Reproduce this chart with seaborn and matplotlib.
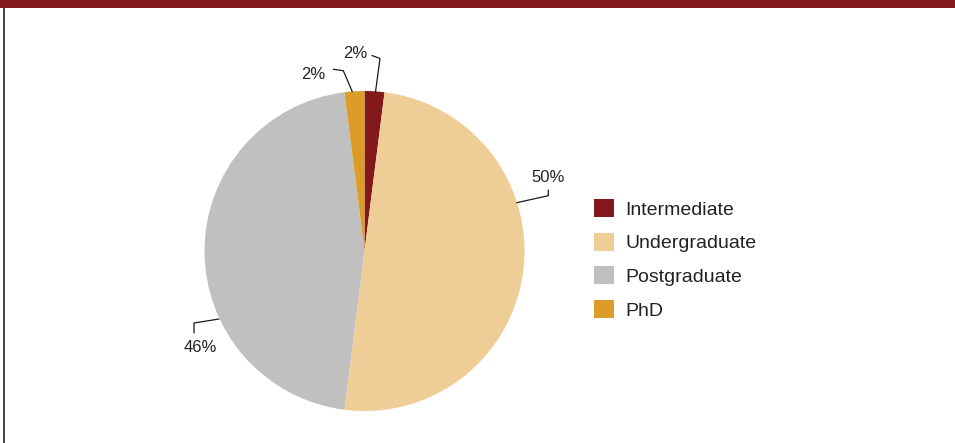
import matplotlib
matplotlib.use("Agg")
import matplotlib.pyplot as plt
from matplotlib.patches import Rectangle
import seaborn as sns

# ---- data ----
categories = ["Intermediate", "Undergraduate", "Postgraduate", "PhD"]
shares = [2, 50, 46, 2]
pct_labels = ["2%", "50%", "46%", "2%"]
colors = ["#82181a", "#eecd96", "#c0c0c0", "#dc9d28"]

# ---- layout (pixel space, y downward) ----
W, H = 955, 443
CENTER = (364.5, 251)
RADIUS = 160
# connector polylines and label centres for each slice
CONNECTORS = [
    [(375.5, 92), (380, 58.5), (372, 55.5)],
    [(516.7, 202.7), (548.3, 195.7), (548.3, 190)],
    [(219, 319), (194, 323), (194, 333)],
    [(352.3, 91.7), (343.3, 70.7), (333.3, 69.3)],
]
LABEL_POS = [(355, 53.5), (548.5, 177.5), (200.5, 348), (313, 74.5)]

sns.set_theme(style="white")
plt.rcParams["font.family"] = ["Liberation Sans", "DejaVu Sans"]

fig = plt.figure(figsize=(W / 100, H / 100), dpi=100)
ax = fig.add_axes([0, 0, 1, 1])

wedges, _ = ax.pie(
    shares,
    colors=colors,
    startangle=-90,
    counterclock=True,
    center=CENTER,
    radius=RADIUS,
    wedgeprops=dict(linewidth=0, antialiased=True),
    frame=True,
)
ax.set_xlim(0, W)
ax.set_ylim(H, 0)
ax.set_aspect("equal")
ax.axis("off")

# top band and left rule
ax.add_patch(Rectangle((0, 0), W, 8, facecolor="#821a1c", edgecolor="none", clip_on=False))
ax.plot([3.5, 3.5], [8, H], color="#111111", lw=1.1, solid_capstyle="butt", clip_on=False)

# data labels with connectors
for pts, pos, txt in zip(CONNECTORS, LABEL_POS, pct_labels):
    xs, ys = zip(*pts)
    ax.plot(xs, ys, color="#1a1a1a", lw=0.9, solid_joinstyle="miter")
    ax.text(pos[0], pos[1], txt, ha="center", va="center", fontsize=12, color="#222222")

# legend
leg = ax.legend(
    wedges,
    categories,
    loc="upper left",
    bbox_to_anchor=(593.5, 199),
    bbox_transform=ax.transData,
    frameon=False,
    borderpad=0,
    borderaxespad=0,
    fontsize=14,
    handlelength=1.05,
    handleheight=1.05,
    handletextpad=0.6,
    labelspacing=0.72,
)
for t in leg.get_texts():
    t.set_color("#222222")

fig.savefig("out.png", dpi=100, facecolor="white")
